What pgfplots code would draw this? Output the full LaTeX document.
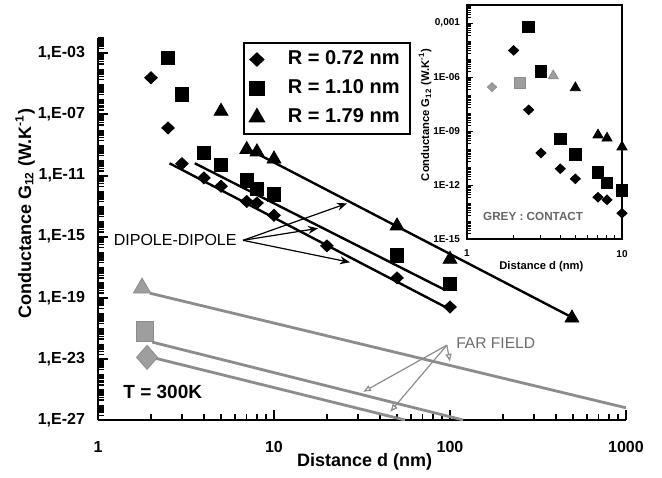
\documentclass[border=0pt]{standalone}
\usepackage{fontspec}
\setmainfont{Liberation Sans}
\usepackage{pgfplots}
\pgfplotsset{compat=1.18}
\usetikzlibrary{arrows.meta}

% minor log ticks, built once and handed over as styles
\xdef\mainminor{1e-2}
\foreach \e in {-27,...,-3}{\foreach \m in {2,...,9}{\xdef\mainminor{\mainminor,\m e\e}}}
\xdef\insetminor{1e-2}
\foreach \e in {-15,...,-3}{\foreach \m in {2,...,9}{\xdef\insetminor{\insetminor,\m e\e}}}
\xdef\xminorlist{2}
\foreach \e in {0,1,2}{\foreach \m in {2,...,9}{\xdef\xminorlist{\xminorlist,\m e\e}}}
\edef\tmp{\noexpand\pgfplotsset{
  mainminor/.style={minor ytick={\mainminor}, minor xtick={\xminorlist}},
  insetminor/.style={minor ytick={\insetminor}, minor xtick={2,3,4,5,6,7,8,9}}}}
\tmp

\definecolor{greyfill}{gray}{0.62}
\definecolor{greyline}{gray}{0.55}

\begin{document}
\begin{tikzpicture}
\begin{axis}[
  name=main,
  scale only axis, width=264pt, height=191pt,
  xmode=log, ymode=log,
  xmin=1, xmax=1000, ymin=1e-27, ymax=1e-2,
  axis lines*=left, tick align=inside,
  axis line style={line width=1pt},
  xtick={1,10,100,1000}, xticklabels={1,10,100,1000},
  ytick={1e-27,1e-23,1e-19,1e-15,1e-11,1e-7,1e-3},
  yticklabels={{1,E-27},{1,E-23},{1,E-19},{1,E-15},{1,E-11},{1,E-07},{1,E-03}},
  mainminor,
  major tick style={black, line width=1pt},
  minor tick style={black, line width=0.7pt},
  major tick length=5pt, minor tick length=3pt,
  ticklabel style={font=\bfseries\fontsize{8}{9}\selectfont},
  yticklabel style={xshift=-3pt},
  xticklabel style={yshift=-7pt},
  xlabel={Distance d (nm)},
  ylabel={Conductance G\textsubscript{12} (W.K\textsuperscript{-1})},
  label style={font=\bfseries\fontsize{9}{10}\selectfont},
  xlabel style={at={(axis description cs:0.505,-0.11)}, anchor=center},
  ylabel style={at={(axis description cs:-0.138,0.54)}, anchor=center},
  legend style={at={(0.2746,0.9895)}, anchor=north west, draw=black,
    line width=1pt, font=\bfseries\fontsize{10}{12}\selectfont,
    inner xsep=3pt, inner ysep=2pt, row sep=2pt,
    /tikz/every odd column/.append style={column sep=10pt}},
  legend cell align=left,
]
% dipole-dipole fits
\addplot[black, line width=1.2pt, forget plot] coordinates {(2.55,6.3e-11) (94,2.5e-20)};
\addplot[black, line width=1.2pt, forget plot] coordinates {(3.55,6.3e-11) (94,3.2e-19)};
\addplot[black, line width=1.2pt, forget plot] coordinates {(6.85,6.9e-10) (502,4.7e-21)};
% far field
\addplot[greyline, line width=1.4pt, forget plot] coordinates {(1.97,2.0e-19) (1000,6.3e-27)};
\addplot[greyline, line width=1.4pt, forget plot] coordinates {(2.03,1.26e-22) (118.7,1e-27)};
\addplot[greyline, line width=1.4pt, forget plot] coordinates {(2.11,1.12e-23) (55.5,1e-27)};

\addplot[only marks, mark=diamond*, mark size=3pt, mark options={xscale=1.4, fill=black, draw=black}]
  coordinates {(2,2.5e-5) (2.5,1.3e-8) (3,6e-11) (4,7e-12) (5,2e-12) (7,2e-13) (8,1.6e-13)
               (10,2.5e-14) (20,2.5e-16) (50,2e-18) (100,2.5e-20)};
\addlegendentry{R = 0.72 nm}
\addplot[only marks, mark=square*, mark size=3.4pt, mark options={fill=black, draw=black}]
  coordinates {(2.5,5e-4) (3,2e-6) (4,3e-10) (5,5e-11) (7,5e-12) (8,1.3e-12) (10,6e-13)
               (50,6e-17) (100,8e-19)};
\addlegendentry{R = 1.10 nm}
\addplot[only marks, mark=triangle*, mark size=4pt, mark options={fill=black, draw=black}]
  coordinates {(5,1.6e-7) (7,5e-10) (8,3.5e-10) (10,1.2e-10) (50,5e-15) (100,3.3e-17) (493,4.7e-21)};
\addlegendentry{R = 1.79 nm}

% grey contact points
\addplot[only marks, forget plot, mark=triangle*, mark size=5pt, mark options={fill=greyfill, draw=greyline}]
  coordinates {(1.78,4.3e-19)};
\addplot[only marks, forget plot, mark=square*, mark size=4.2pt, mark options={yscale=1.2, fill=greyfill, draw=greyline}]
  coordinates {(1.85,6.3e-22)};
\addplot[only marks, forget plot, mark=diamond*, mark size=6pt, mark options={xscale=1.17, fill=greyfill, draw=greyline}]
  coordinates {(1.9,1.26e-23)};

% annotations
\draw[-{Stealth[length=5pt,width=4pt]}, line width=0.6pt] (axis cs:6.67,5.75e-16) -- (axis cs:26,1.5e-13);
\draw[-{Stealth[length=5pt,width=4pt]}, line width=0.6pt] (axis cs:6.67,5.75e-16) -- (axis cs:17.8,3.5e-15);
\draw[-{Stealth[length=5pt,width=4pt]}, line width=0.6pt] (axis cs:6.67,5.75e-16) -- (axis cs:27,2.1e-17);
\node[anchor=east, inner sep=0pt, font=\fontsize{8}{9}\selectfont] at (axis cs:6.16,5.75e-16) {DIPOLE-DIPOLE};

\draw[-{Latex[open,length=4pt,width=3.5pt]}, greyline, line width=0.6pt] (axis cs:96,7.9e-23) -- (axis cs:100,6.3e-24);
\draw[-{Latex[open,length=4pt,width=3.5pt]}, greyline, line width=0.6pt] (axis cs:96,7.9e-23) -- (axis cs:32,6.8e-26);
\draw[-{Latex[open,length=4pt,width=3.5pt]}, greyline, line width=0.6pt] (axis cs:96,7.9e-23) -- (axis cs:45.6,3.3e-27);
\node[anchor=west, inner sep=0pt, text=gray!85!black, font=\fontsize{7.8}{9}\selectfont] at (axis cs:108,1.07e-22) {FAR FIELD};

\node[anchor=west, inner sep=0pt, font=\bfseries\fontsize{9.5}{11}\selectfont] at (axis cs:1.387,6.8e-26) {T = 300K};
\end{axis}

% inset
\begin{axis}[
  at={(184.5pt,90.5pt)}, anchor=south west,
  scale only axis, width=77.5pt, height=117pt,
  xmode=log, ymode=log, xmin=1, xmax=10, ymin=1e-15, ymax=1e-2,
  axis background/.style={fill=white},
  axis line style={line width=0.6pt},
  xtick={1,10}, xticklabels={1,10},
  ytick={1e-15,1e-12,1e-9,1e-6,1e-3},
  yticklabels={1E-15,1E-12,1E-09,1E-06,{0,001}},
  insetminor,
  xtick pos=bottom, ytick pos=left, tick align=inside,
  tick style={black, line width=0.5pt},
  major tick length=3pt, minor tick length=2pt,
  ticklabel style={font=\bfseries\fontsize{5}{6}\selectfont},
  xticklabel style={yshift=-2pt},
  xlabel={Distance d (nm)},
  ylabel={Conductance G\textsubscript{12} (W.K\textsuperscript{-1})},
  label style={font=\bfseries\fontsize{5.6}{6.5}\selectfont},
  xlabel style={at={(axis description cs:0.48,-0.12)}, anchor=center},
  ylabel style={at={(axis description cs:-0.27,0.53)}, anchor=center},
  clip=false,
]
\addplot[only marks, mark=diamond*, mark size=2.4pt, mark options={xscale=1.4, fill=black, draw=black}]
  coordinates {(2,3e-5) (2.5,1.5e-8) (3,6e-11) (4,8e-12) (5,2.2e-12) (7,2.1e-13) (8,1.5e-13) (10,2.7e-14)};
\addplot[only marks, mark=square*, mark size=2.9pt, mark options={fill=black, draw=black}]
  coordinates {(2.5,6e-4) (3,2.1e-6) (4,3.6e-10) (5,5e-11) (7,5e-12) (8,1.3e-12) (10,5e-13)};
\addplot[only marks, mark=triangle*, mark size=2.9pt, mark options={fill=black, draw=black}]
  coordinates {(5,2.5e-7) (7,6e-10) (8,4e-10) (10,1.3e-10)};
\addplot[only marks, mark=diamond*, mark size=2.2pt, mark options={xscale=1.4, fill=greyfill, draw=greyline}]
  coordinates {(1.45,2.75e-7)};
\addplot[only marks, mark=square*, mark size=2.7pt, mark options={fill=greyfill, draw=greyline}]
  coordinates {(2.2,4.7e-7)};
\addplot[only marks, mark=triangle*, mark size=2.9pt, mark options={fill=greyfill, draw=greyline}]
  coordinates {(3.6,1.15e-6)};
\node[text=gray!80!black, font=\bfseries\fontsize{5.85}{7}\selectfont] at (axis cs:2.67,1.9e-14) {GREY : CONTACT};
\end{axis}
\path[use as bounding box] (-49pt,-27pt) rectangle (282pt,210pt);
\end{tikzpicture}
\end{document}
